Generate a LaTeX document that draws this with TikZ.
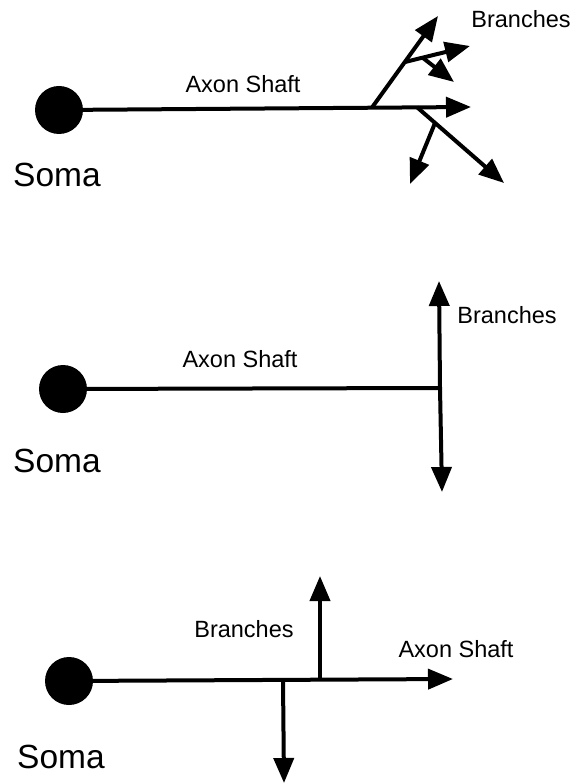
\documentclass[tikz,border=0pt]{standalone}
\usepackage{fontspec}
\setmainfont{Liberation Sans}
\usetikzlibrary{arrows.meta}
\begin{document}
\begin{tikzpicture}[x=1pt,y=-1pt,
  soma/.style={circle,fill=black,minimum size=48pt,inner sep=0pt},
  shaft/.style={line width=4pt},
  arr/.style={line width=4pt,-{Triangle[length=25pt,width=20pt]}},
  lbl/.style={anchor=base,font=\fontsize{23.5}{28}\selectfont,inner sep=0pt},
  somalbl/.style={anchor=base,font=\fontsize{33.5}{40}\selectfont,inner sep=0pt}]
\useasboundingbox (0,0) rectangle (574,783);

% ---------- top ----------
\node[soma] (s1) at (59,110) {};
\coordinate (t1) at (471,107);
\coordinate (j1) at (372,107.5);
\coordinate (j2) at (417,107.2);
\coordinate (b1) at (438,16);
\coordinate (j3) at (405,62);
\coordinate (b3) at (470,46);
\coordinate (j4) at (423,58);
\coordinate (b4) at (454,82);
\coordinate (b5) at (504,183);
\coordinate (j5) at (435,123);
\coordinate (b6) at (410,184);
\draw[arr] (s1.center) -- (t1);
\draw[arr] (j1) -- (b1);
\draw[arr] (j3) -- (b3);
\draw[arr] (j4) -- (b4);
\draw[arr] (j2) -- (b5);
\draw[arr] (j5) -- (b6);
\node[lbl] (ax1) at (243,93) {Axon Shaft};
\node[lbl] (br1) at (521,28) {Branches};
\node[somalbl] (sl1) at (57,187) {Soma};

% ---------- middle ----------
\node[soma] (s2) at (63,389) {};
\coordinate (j6) at (440,388);
\coordinate (u2) at (439,281);
\coordinate (d2) at (442,492);
\draw[shaft] (s2.center) -- (j6);
\draw[arr] (j6) -- (u2);
\draw[arr] (j6) -- (d2);
\node[lbl] (ax2) at (240,367) {Axon Shaft};
\node[lbl] (br2) at (507,323) {Branches};
\node[somalbl] (sl2) at (57,472) {Soma};

% ---------- bottom ----------
\node[soma] (s3) at (69,681) {};
\coordinate (t3) at (453,679);
\coordinate (j7) at (320,680);
\coordinate (j8) at (283,681);
\coordinate (u3) at (320,576);
\coordinate (d3) at (284,783);
\draw[arr] (s3.center) -- (t3);
\draw[arr] (j7) -- (u3);
\draw[arr] (j8) -- (d3);
\node[lbl] (br3) at (244,637) {Branches};
\node[lbl] (ax3) at (456,657) {Axon Shaft};
\node[somalbl] (sl3) at (61,768) {Soma};
\end{tikzpicture}
\end{document}
